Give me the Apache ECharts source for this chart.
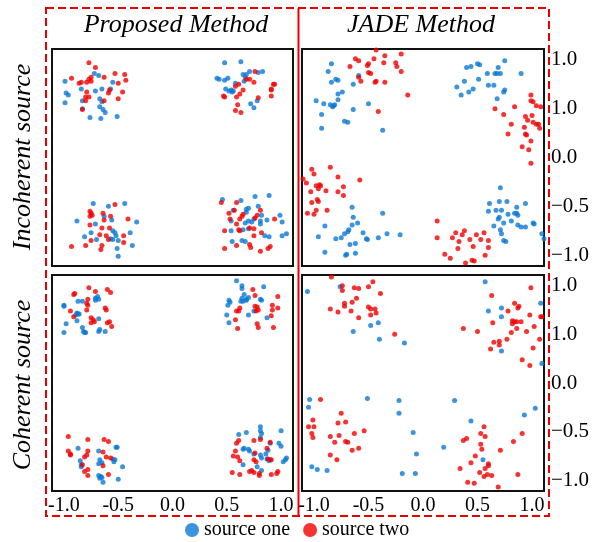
<!DOCTYPE html>
<html>
<head>
<meta charset="utf-8">
<script src="https://cdn.jsdelivr.net/npm/echarts@6.0.0/dist/echarts.min.js"></script>
<style>
  html, body { margin: 0; padding: 0; background: #fff; }
  #chart { width: 612px; height: 542px; }
</style>
</head>
<body>
<div id="chart"></div>
<script>
// column / row headings
const columnTitles = ['Proposed Method', 'JADE Method'];
const rowTitles = ['Incoherent source', 'Coherent source'];
const seriesNames = ['source one', 'source two'];

// tick positions and the labels printed at them
const xTickValues = [-1, -0.5, 0, 0.5, 1];
const xTickLabels = ['-1.0', '-0.5', '0.0', '0.5', '1.0'];
const yTickValues = [-1, -0.5, 0, 0.5, 1];
const yTickLabels = ['\u22121.0', '\u22120.5', '0.0', '1.0', '1.0'];

// Proposed method, incoherent sources
const propIncohOne = [
  [-0.99,0.78],[-0.72,0.86],[-0.68,0.84],[-0.55,0.77],[-0.84,0.70],[-0.71,0.68],[-0.65,0.70],[-0.57,0.70],[-0.98,0.66],[-0.96,0.64],[-0.99,0.56],[-0.83,0.58],[-0.67,0.60],[-0.65,0.57],[-0.67,0.52],[-0.64,0.49],[-0.62,0.46],[-0.83,0.50],[-0.76,0.41],[-0.66,0.40],[-0.51,0.42],
  [0.48,0.97],[0.63,0.98],[0.41,0.81],[0.43,0.80],[0.48,0.79],[0.51,0.81],[0.65,0.85],[0.68,0.85],[0.71,0.88],[0.79,0.87],[0.83,0.88],[0.58,0.76],[0.49,0.70],[0.54,0.69],[0.55,0.67],[0.56,0.68],[0.52,0.68],[0.67,0.82],[0.66,0.78],[0.78,0.58],[0.75,0.51],[0.72,0.55],
  [-0.73,-0.47],[-0.59,-0.50],[-0.44,-0.47],[-0.88,-0.65],[-0.71,-0.68],[-0.63,-0.60],[-0.56,-0.64],[-0.33,-0.66],[-0.55,-0.75],[-0.53,-0.77],[-0.52,-0.80],[-0.50,-0.85],[-0.75,-0.77],[-0.81,-0.81],[-0.70,-0.84],[-0.57,-0.83],[-0.39,-0.77],[-0.37,-0.90],[-0.51,-0.93],[-0.50,-1.01],[-0.55,-0.84],
  [0.46,-0.43],[0.63,-0.44],[0.76,-0.40],[0.89,-0.39],[0.70,-0.52],[0.68,-0.56],[0.79,-0.50],[0.82,-0.59],[0.56,-0.54],[0.54,-0.65],[0.67,-0.67],[0.70,-0.65],[0.73,-0.66],[0.75,-0.63],[0.81,-0.65],[0.81,-0.68],[0.87,-0.64],[0.99,-0.59],[1.01,-0.66],[0.54,-0.75],[0.65,-0.74],[0.70,-0.73],[0.85,-0.80],[0.89,-0.81],[1.01,-0.80],[1.05,-0.78],[0.55,-0.86],[0.64,-0.85],[0.67,-0.86],[0.68,-0.53]
];
const propIncohTwo = [
  [-0.77,0.97],[-0.71,0.92],[-0.93,0.81],[-0.86,0.76],[-0.84,0.77],[-0.79,0.77],[-0.77,0.80],[-0.75,0.82],[-0.75,0.78],[-0.63,0.82],[-0.53,0.86],[-0.44,0.85],[-0.43,0.79],[-0.50,0.76],[-0.58,0.69],[-0.59,0.66],[-0.46,0.67],[-0.79,0.67],[-0.80,0.62],[-0.77,0.62],[-0.80,0.58],[-0.63,0.58],[-0.50,0.60],[-0.83,0.49],
  [0.76,0.88],[0.68,0.80],[0.71,0.80],[0.75,0.77],[0.61,0.75],[0.58,0.73],[0.65,0.69],[0.62,0.65],[0.47,0.63],[0.48,0.62],[0.59,0.62],[0.79,0.61],[0.93,0.75],[0.94,0.75],[0.91,0.70],[0.91,0.69],[0.91,0.63],[0.60,0.54],[0.58,0.48],[0.63,0.46],
  [-0.53,-0.48],[-0.76,-0.55],[-0.75,-0.57],[-0.76,-0.60],[-0.74,-0.59],[-0.64,-0.57],[-0.57,-0.60],[-0.63,-0.64],[-0.41,-0.63],[-0.76,-0.69],[-0.65,-0.72],[-0.58,-0.72],[-0.67,-0.79],[-0.61,-0.80],[-0.59,-0.84],[-0.45,-0.80],[-0.75,-0.85],[-0.80,-0.90],[-0.93,-0.91],[-0.65,-0.90],[-0.66,-0.94],[-0.45,-0.87],
  [0.45,-0.46],[0.59,-0.46],[0.52,-0.57],[0.57,-0.54],[0.64,-0.60],[0.65,-0.58],[0.78,-0.59],[0.81,-0.54],[0.76,-0.62],[0.62,-0.63],[0.59,-0.68],[0.94,-0.63],[0.48,-0.75],[0.61,-0.74],[0.62,-0.75],[0.71,-0.72],[0.75,-0.73],[0.75,-0.80],[0.82,-0.77],[0.48,-0.93],[0.59,-0.90],[0.71,-0.89],[0.72,-0.92],[0.81,-0.96],[0.88,-0.93],[0.90,-0.91],[0.53,-0.63]
];

// JADE method, incoherent sources
const jadeIncohOne = [
  [-0.84,0.96],[-0.87,0.88],[-0.59,0.84],[-0.64,0.75],[-0.84,0.77],[-0.80,0.80],[-0.78,0.79],[-0.74,0.67],[-0.78,0.65],[-0.78,0.59],[-0.98,0.58],[-0.91,0.55],[-0.85,0.54],[-0.83,0.52],[-0.82,0.53],[-0.81,0.54],[-0.64,0.49],[-0.50,0.55],[-0.93,0.44],[-0.72,0.37],[-0.69,0.36],[-0.93,0.30],[-0.37,0.28],
  [0.40,0.92],[0.44,0.93],[0.50,0.96],[0.52,0.95],[0.69,0.92],[0.75,0.99],[0.90,0.86],[0.59,0.86],[0.66,0.86],[0.68,0.86],[0.71,0.86],[0.38,0.78],[0.51,0.80],[0.46,0.70],[0.42,0.67],[0.35,0.64],[0.60,0.74],[0.65,0.74],[0.75,0.69],[0.74,0.67],[0.68,0.60],[0.31,0.72],
  [-0.65,-0.51],[-0.37,-0.57],[-0.64,-0.61],[-0.90,-0.70],[-0.60,-0.67],[-0.65,-0.69],[-0.68,-0.74],[-0.69,-0.76],[-0.72,-0.78],[-0.55,-0.77],[-0.75,-0.82],[-0.80,-0.83],[-0.96,-0.81],[-0.52,-0.83],[-0.51,-0.84],[-0.41,-0.82],[-0.33,-0.78],[-0.21,-0.79],[-0.67,-0.89],[-0.62,-0.88],[-0.90,-0.97],[-0.70,-0.99],[-0.71,-1.00],[-0.62,-0.98],
  [0.71,-0.31],[0.61,-0.47],[0.70,-0.45],[0.77,-0.45],[0.60,-0.55],[0.67,-0.54],[0.72,-0.54],[0.70,-0.61],[0.78,-0.58],[0.84,-0.57],[0.86,-0.51],[0.94,-0.47],[0.86,-0.57],[0.87,-0.59],[0.69,-0.63],[0.74,-0.67],[0.81,-0.65],[0.87,-0.69],[0.90,-0.71],[0.94,-0.71],[1.01,-0.67],[1.02,-0.68],[0.65,-0.70],[0.71,-0.74],[0.72,-0.78],[0.74,-0.85],[0.76,-0.86],[1.09,-0.78],[1.11,-0.83]
];
const jadeIncohTwo = [
  [-0.62,1.01],[-0.59,0.99],[-0.43,1.10],[-0.35,1.04],[-0.20,1.06],[-0.45,1.01],[-0.50,0.96],[-0.51,0.94],[-0.67,0.93],[-0.36,0.97],[-0.25,0.97],[-0.24,0.93],[-0.20,0.88],[-0.59,0.82],[-0.57,0.78],[-0.50,0.87],[-0.48,0.86],[-0.43,0.78],[-0.44,0.77],[-0.35,0.77],[-0.14,0.64],[-0.41,0.47],
  [0.99,0.64],[0.99,0.58],[1.01,0.57],[1.04,0.53],[1.08,0.52],[0.66,0.50],[0.84,0.52],[0.74,0.44],[0.94,0.42],[1.00,0.43],[0.96,0.38],[1.01,0.36],[1.04,0.34],[1.06,0.34],[1.07,0.30],[0.93,0.31],[0.81,0.34],[0.78,0.24],[0.94,0.24],[0.95,0.23],[0.99,0.17],[0.91,0.11],[0.97,0.08],[0.99,-0.06],
  [-1.02,-0.12],[-0.85,-0.10],[-1.10,-0.22],[-1.07,-0.26],[-1.00,-0.17],[-0.78,-0.20],[-0.98,-0.29],[-0.95,-0.28],[-0.94,-0.29],[-0.96,-0.32],[-1.03,-0.35],[-0.89,-0.34],[-0.78,-0.35],[-0.73,-0.30],[-0.73,-0.39],[-0.58,-0.23],[-0.97,-0.43],[-0.96,-0.45],[-1.02,-0.46],[-0.98,-0.54],[-1.00,-0.58],[-1.06,-0.57],[-0.88,-0.54],
  [0.13,-0.65],[0.13,-0.82],[0.30,-0.77],[0.27,-0.82],[0.36,-0.79],[0.38,-0.75],[0.33,-0.86],[0.32,-0.93],[0.43,-0.84],[0.49,-0.79],[0.56,-0.77],[0.53,-0.84],[0.60,-0.85],[0.46,-0.91],[0.60,-0.92],[0.57,-1.00],[0.20,-0.99],[0.25,-1.03],[0.39,-1.08],[0.45,-1.05],[0.47,-1.06]
];

// Proposed method, coherent sources
const propCohOne = [
  [-1.00,0.80],[-1.00,0.79],[-0.87,0.84],[-0.83,0.84],[-0.71,0.87],[-0.69,0.89],[-0.68,0.86],[-0.71,0.85],[-0.88,0.72],[-0.87,0.71],[-0.89,0.70],[-0.86,0.71],[-0.88,0.64],[-0.68,0.66],[-0.98,0.61],[-0.83,0.57],[-0.82,0.53],[-0.80,0.52],[-0.81,0.52],[-0.68,0.53],[-0.67,0.55],[-0.62,0.53],[-1.00,0.52],
  [0.59,1.05],[0.64,1.00],[0.64,0.97],[0.84,0.99],[0.66,0.91],[0.64,0.87],[0.68,0.86],[0.70,0.88],[0.68,0.85],[0.52,0.85],[0.53,0.83],[0.51,0.80],[0.65,0.84],[0.81,0.86],[0.82,0.85],[0.50,0.70],[0.52,0.62],[0.70,0.70],[0.75,0.74],[0.87,0.67],[0.63,0.84],
  [-0.87,-0.67],[-0.68,-0.70],[-0.52,-0.66],[-0.51,-0.66],[-0.85,-0.80],[-0.84,-0.84],[-0.84,-0.86],[-0.67,-0.79],[-0.65,-0.82],[-0.68,-0.83],[-0.55,-0.78],[-0.53,-0.79],[-0.54,-0.81],[-0.46,-0.86],[-0.68,-0.95],[-0.66,-0.96],[-0.65,-0.97],[-0.64,-1.02],[-0.67,-0.98],[-0.50,-0.99],
  [0.81,-0.45],[0.81,-0.49],[0.82,-0.52],[1.00,-0.49],[0.61,-0.53],[0.68,-0.51],[0.81,-0.56],[0.90,-0.62],[0.88,-0.69],[0.98,-0.62],[1.00,-0.65],[0.65,-0.68],[0.66,-0.67],[0.70,-0.68],[0.71,-0.70],[0.75,-0.73],[0.81,-0.74],[0.82,-0.77],[0.86,-0.73],[0.87,-0.78],[0.89,-0.80],[0.90,-0.79],[1.05,-0.77],[1.04,-0.79],[1.02,-0.81],[0.65,-0.84],[0.78,-0.86],[0.82,-0.90]
];
const propCohTwo = [
  [-0.77,0.98],[-0.90,0.92],[-0.91,0.91],[-0.71,0.94],[-0.60,0.96],[-0.57,0.93],[-0.78,0.86],[-0.79,0.82],[-0.78,0.80],[-0.94,0.74],[-0.79,0.75],[-0.62,0.77],[-0.61,0.75],[-0.91,0.68],[-0.75,0.67],[-0.73,0.65],[-0.72,0.63],[-0.75,0.62],[-0.58,0.63],[-0.60,0.62],[-0.56,0.58],
  [0.74,0.96],[0.76,0.90],[0.97,0.89],[0.62,0.77],[0.61,0.74],[0.59,0.74],[0.76,0.79],[0.78,0.78],[0.79,0.75],[0.77,0.74],[0.92,0.80],[0.97,0.77],[0.92,0.75],[0.58,0.65],[0.60,0.56],[0.91,0.69],[0.78,0.61],[0.79,0.57],[0.93,0.57],
  [-0.96,-0.55],[-0.78,-0.58],[-0.63,-0.58],[-0.59,-0.60],[-0.96,-0.70],[-0.94,-0.73],[-0.94,-0.74],[-0.78,-0.70],[-0.79,-0.74],[-0.81,-0.76],[-0.64,-0.71],[-0.61,-0.76],[-0.57,-0.77],[-0.64,-0.85],[-0.83,-0.84],[-0.78,-0.89],[-0.81,-0.91],[-0.78,-0.95],[-0.59,-0.94],
  [0.61,-0.59],[0.59,-0.62],[0.75,-0.59],[0.81,-0.58],[0.90,-0.61],[0.87,-0.67],[0.58,-0.70],[0.56,-0.75],[0.60,-0.76],[0.62,-0.80],[0.76,-0.72],[0.75,-0.79],[0.77,-0.81],[0.88,-0.78],[0.91,-0.79],[0.55,-0.92],[0.62,-0.94],[0.71,-0.91],[0.75,-0.92],[0.73,-0.90],[0.80,-0.93],[0.80,-0.95],[0.91,-0.94],[0.96,-0.93],[0.97,-0.91]
];

// JADE method, coherent sources
const jadeCohOne = [
  [-1.06,0.94],[-0.76,0.99],[-0.41,0.62],[-0.48,0.59],[-0.64,0.53],[-0.40,0.45],[-0.17,0.41],
  [0.57,1.04],[0.60,0.74],[0.72,0.77],[0.72,0.68],[1.08,0.82],[0.72,0.33],[1.09,0.20],
  [-1.04,-0.17],[-1.05,-0.25],[-0.51,-0.16],[-0.22,-0.18],[-0.22,-0.31],[-0.09,-0.51],[-0.06,-0.73],[0.19,-0.66],[0.29,-0.18],[0.44,-0.39],[-1.02,-0.86],[-0.97,-0.89],[-0.88,-0.90],[-0.19,-0.93],[-0.07,-0.93],
  [1.03,-0.26],[0.93,-0.33],[0.55,-0.79]
];
const jadeCohTwo = [
  [-0.84,1.09],[-0.74,1.00],[-0.74,0.95],[-0.63,0.98],[-0.59,0.97],[-0.50,0.99],[-0.46,1.04],[-0.39,0.92],[-0.85,0.76],[-0.78,0.73],[-0.72,0.82],[-0.72,0.79],[-0.65,0.83],[-0.61,0.87],[-0.66,0.74],[-0.59,0.67],[-0.50,0.78],[-0.48,0.76],[-0.44,0.76],[-0.43,0.72],[-0.48,0.70],[-0.26,0.50],
  [0.99,0.98],[0.63,0.90],[0.84,0.82],[0.88,0.79],[0.87,0.77],[0.78,0.74],[0.98,0.70],[1.08,0.68],[1.09,0.68],[0.64,0.62],[0.82,0.64],[0.84,0.63],[0.86,0.63],[0.90,0.63],[0.82,0.61],[0.86,0.56],[1.02,0.58],[0.81,0.52],[0.95,0.53],[0.37,0.56],[0.50,0.53],[0.77,0.45],[0.70,0.43],[0.65,0.42],[0.70,0.39],[0.62,0.35],[1.07,0.45],[1.01,0.36],[0.91,0.24],[0.98,0.18],
  [-0.94,-0.17],[-0.75,-0.31],[-0.78,-0.41],[-0.71,-0.40],[-1.01,-0.38],[-1.05,-0.45],[-1.00,-0.45],[-1.02,-0.52],[-1.01,-0.56],[-0.85,-0.55],[-0.77,-0.54],[-0.81,-0.61],[-0.71,-0.60],[-0.69,-0.61],[-0.63,-0.52],[-0.54,-0.49],[-0.65,-0.69],[-0.59,-0.67],[-0.85,-0.74],[-0.79,-0.79],
  [0.56,-0.45],[0.53,-0.52],[0.57,-0.55],[0.40,-0.57],[0.37,-0.59],[0.53,-0.63],[0.54,-0.68],[0.48,-0.75],[0.71,-0.69],[0.91,-0.52],[0.83,-0.60],[0.60,-0.83],[0.60,-0.85],[0.57,-0.88],[0.44,-0.82],[0.34,-0.88],[0.52,-0.92],[0.59,-0.94],[0.56,-0.96],[0.63,-0.95],[0.87,-0.94],[0.41,-1.02],[0.47,-1.03],[0.69,-1.07]
];

const panels = [
  { one: propIncohOne, two: propIncohTwo, grid: { left: 52, top: 49, width: 241, height: 217 }, xLabels: false, yLabels: false },
  { one: jadeIncohOne, two: jadeIncohTwo, grid: { left: 302, top: 49, width: 242, height: 217 }, xLabels: false, yLabels: true },
  { one: propCohOne, two: propCohTwo, grid: { left: 52, top: 275, width: 241, height: 216 }, xLabels: true, yLabels: false },
  { one: jadeCohOne, two: jadeCohTwo, grid: { left: 302, top: 275, width: 242, height: 216 }, xLabels: true, yLabels: true }
];

const BLUE = '#0b78d6';
const RED = '#f20000';
const serif = 'Liberation Serif';

function pickLabel(values, labels) {
  return v => {
    const i = values.findIndex(t => Math.abs(t - v) < 1e-6);
    return i < 0 ? '' : labels[i];
  };
}

const grids = [], xAxes = [], yAxes = [], series = [];
panels.forEach((p, i) => {
  grids.push(Object.assign({ show: true, borderColor: '#111', borderWidth: 2, backgroundColor: 'transparent' }, p.grid));
  xAxes.push({
    type: 'value', gridIndex: i, min: -1.11, max: 1.11,
    axisLine: { show: false }, axisTick: { show: false }, splitLine: { show: false },
    axisLabel: {
      show: p.xLabels, customValues: xTickValues, margin: 5,
      formatter: pickLabel(xTickValues, xTickLabels),
      color: '#000', fontFamily: serif, fontSize: 20
    }
  });
  yAxes.push({
    type: 'value', gridIndex: i, min: -1.11, max: 1.11, position: 'right',
    axisLine: { show: false }, axisTick: { show: false }, splitLine: { show: false },
    axisLabel: {
      show: p.yLabels, customValues: yTickValues, margin: 7, align: 'left',
      formatter: pickLabel(yTickValues, yTickLabels),
      color: '#000', fontFamily: serif, fontSize: 21
    }
  });
  series.push({
    name: seriesNames[0], type: 'scatter', xAxisIndex: i, yAxisIndex: i,
    data: p.one, symbolSize: 5, itemStyle: { color: BLUE }
  });
  series.push({
    name: seriesNames[1], type: 'scatter', xAxisIndex: i, yAxisIndex: i,
    data: p.two, symbolSize: 5, itemStyle: { color: RED }
  });
});

const headingStyle = { fontFamily: serif, fontStyle: 'italic', fontSize: 26, fill: '#000', textAlign: 'center', textVerticalAlign: 'middle' };

const chart = echarts.init(document.getElementById('chart'), null, { renderer: 'canvas' });
chart.setOption({
  animation: false,
  backgroundColor: '#fff',
  textStyle: { fontFamily: serif },
  grid: grids,
  xAxis: xAxes,
  yAxis: yAxes,
  series: series,
  legend: {
    data: seriesNames,
    left: 185, top: 520, padding: 0,
    icon: 'circle', itemWidth: 14, itemHeight: 14, itemGap: 13,
    formatter: name => '{t|' + name + '}',
    textStyle: {
      fontFamily: serif, fontSize: 20, color: '#000',
      rich: { t: { fontFamily: serif, fontSize: 20, color: '#000' } }
    }
  },
  graphic: [
    { type: 'rect', shape: { x: 46, y: 8, width: 503, height: 508 }, style: { fill: 'none', stroke: '#e80000', lineWidth: 2, lineDash: [8, 4] }, z: 10 },
    { type: 'line', shape: { x1: 298.5, y1: 8, x2: 298.5, y2: 516 }, style: { stroke: '#e80000', lineWidth: 2 }, z: 10 },
    { type: 'text', x: 176, y: 25, style: Object.assign({ text: columnTitles[0] }, headingStyle) },
    { type: 'text', x: 421, y: 25, style: Object.assign({ text: columnTitles[1] }, headingStyle) },
    { type: 'text', x: 23, y: 157, rotation: Math.PI / 2, style: Object.assign({ text: rowTitles[0] }, headingStyle) },
    { type: 'text', x: 23, y: 385, rotation: Math.PI / 2, style: Object.assign({ text: rowTitles[1] }, headingStyle) }
  ]
});
</script>
</body>
</html>
